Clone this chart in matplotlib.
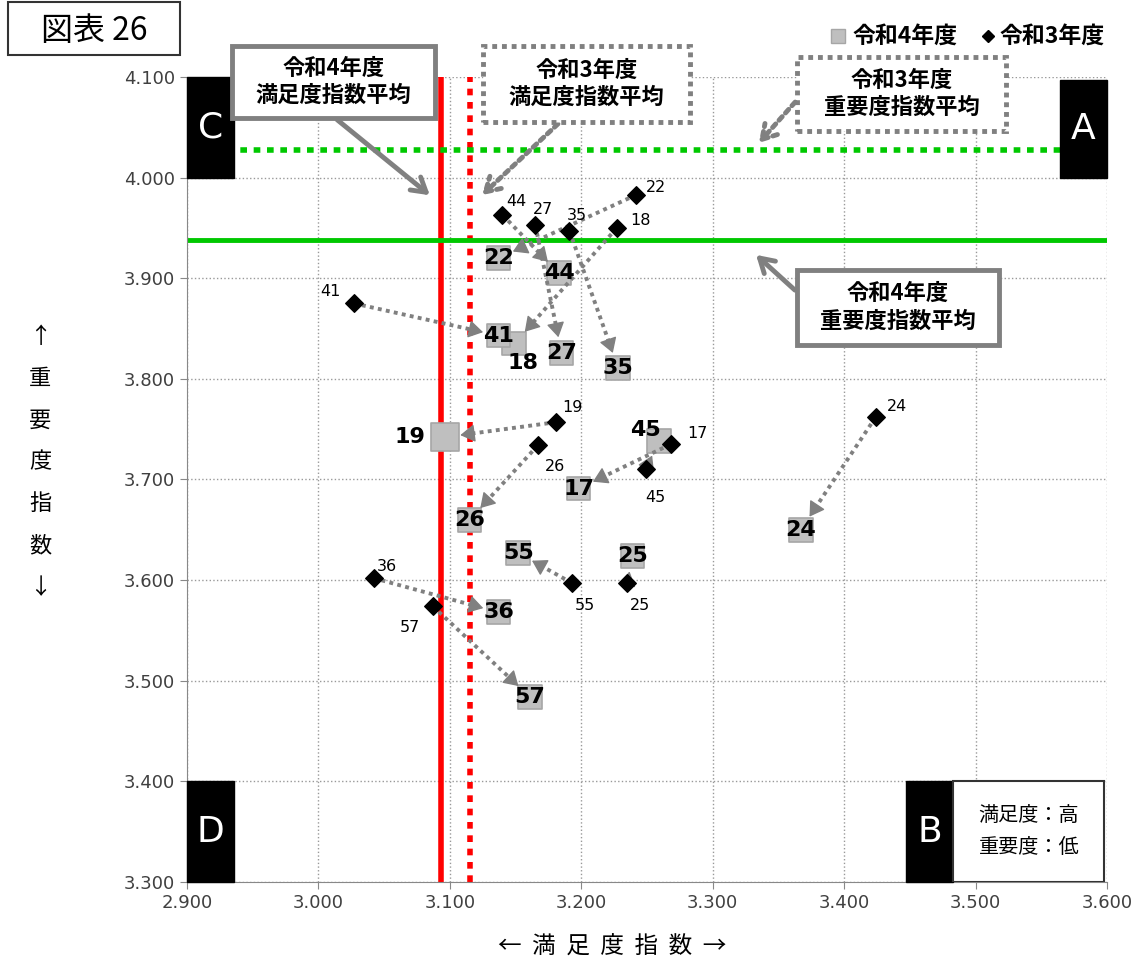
import matplotlib
matplotlib.use('Agg')
import numpy as np
import matplotlib.pyplot as plt
from matplotlib.patches import Rectangle, FancyArrowPatch

plt.rcParams['font.family'] = ['Noto Sans CJK JP', 'DejaVu Sans']

# data
ids = ['44', '27', '35', '22', '18', '41', '19', '26', '17', '45', '24', '55', '25', '36', '57']
sat_r3 = [3.140, 3.165, 3.191, 3.242, 3.227, 3.027, 3.181, 3.167, 3.268, 3.249, 3.424, 3.193, 3.235, 3.042, 3.087]
imp_r3 = [3.963, 3.953, 3.947, 3.983, 3.950, 3.875, 3.757, 3.734, 3.735, 3.710, 3.762, 3.597, 3.597, 3.602, 3.574]
sat_r4 = [3.183, 3.185, 3.228, 3.137, 3.149, 3.137, 3.096, 3.115, 3.198, 3.259, 3.367, 3.152, 3.239, 3.137, 3.161]
imp_r4 = [3.905, 3.826, 3.811, 3.920, 3.835, 3.843, 3.742, 3.660, 3.691, 3.738, 3.650, 3.627, 3.624, 3.568, 3.484]

avg_sat_r4 = 3.093
avg_sat_r3 = 3.115
avg_imp_r4 = 3.938
avg_imp_r3 = 4.027

# label offsets (points)
off_r3 = {'44': (3, 4), '27': (-2, 6), '35': (-2, 6), '22': (7, 0), '18': (10, 0),
          '41': (-24, 3), '19': (4, 5), '26': (5, -10), '17': (12, 2), '45': (0, -15),
          '24': (8, 2), '55': (2, -11), '25': (2, -11), '36': (2, 3), '57': (-24, -10)}
off_r4 = {'19': (-25, 0), '18': (6, -14), '45': (-10, 8)}

fig = plt.figure(figsize=(11.37, 9.64), dpi=100)
ax = fig.add_axes([0.1645, 0.0851, 0.8091, 0.835])
ax.set_xlim(2.9, 3.6)
ax.set_ylim(3.3, 4.1)
ax.set_xticks([2.9 + 0.1 * i for i in range(8)])
ax.set_yticks([3.3 + 0.1 * i for i in range(9)])
ax.xaxis.set_major_formatter(matplotlib.ticker.FormatStrFormatter('%.3f'))
ax.yaxis.set_major_formatter(matplotlib.ticker.FormatStrFormatter('%.3f'))
ax.tick_params(labelsize=13, colors='#404040', length=5, color='#888888')
for lab in ax.get_xticklabels() + ax.get_yticklabels():
    lab.set_family('DejaVu Sans')
ax.grid(True, linestyle=':', color='#999999', linewidth=1)
for s in ['top', 'right']:
    ax.spines[s].set_visible(False)
ax.spines['left'].set_color('#888888')
ax.spines['bottom'].set_color('#888888')
ax.set_axisbelow(True)

# average lines
ax.axvline(avg_sat_r4, color='#ff0000', lw=4, zorder=2)
ax.axvline(avg_sat_r3, color='#ff0000', lw=4, ls=(0, (1.2, 1.2)), zorder=2)
ax.axhline(avg_imp_r4, color='#00c800', lw=3.5, zorder=2)
ax.axhline(avg_imp_r3, color='#00c800', lw=4, ls=(0, (1.2, 1.2)), zorder=2)

# arrows R3 -> R4 : dotted shaft, solid head
fig.canvas.draw()
inv = ax.transData.inverted()
for i in range(len(ids)):
    p0 = ax.transData.transform((sat_r3[i], imp_r3[i]))
    p1 = ax.transData.transform((sat_r4[i], imp_r4[i]))
    d = p1 - p0
    u = d / np.hypot(*d)
    tip = p1 - u * 13
    base = tip - u * 16
    ax.plot(*zip(inv.transform(p0), inv.transform(base)), color='#808080', lw=2.8,
            ls=(0, (1, 1.1)), zorder=4)
    ax.add_patch(FancyArrowPatch(inv.transform(base), inv.transform(tip),
                                 arrowstyle='-|>,head_length=9,head_width=5.5',
                                 color='#808080', lw=1, mutation_scale=1, zorder=4))

ax.scatter(sat_r4, imp_r4, marker='s', s=[290 if n != '19' else 400 for n in ids],
           color='#bfbfbf', edgecolor='#a6a6a6', linewidth=1.2, zorder=3)
ax.scatter(sat_r3, imp_r3, marker='D', s=80, color='black', zorder=5)

for i, n in enumerate(ids):
    dx, dy = off_r4.get(n, (0, 0))
    ax.annotate(n, (sat_r4[i], imp_r4[i]), xytext=(dx, dy), textcoords='offset points',
                ha='center', va='center', fontsize=16, fontweight='bold', family='DejaVu Sans', zorder=6)
    dx, dy = off_r3[n]
    ax.annotate(n, (sat_r3[i], imp_r3[i]), xytext=(dx, dy), textcoords='offset points',
                ha='left', va='bottom' if dy >= 0 else 'top', fontsize=11.5, family='DejaVu Sans', zorder=6)

# quadrant boxes
def quad(x0, y0, w, h, letter):
    ax.add_patch(Rectangle((x0, y0), w, h, color='black', zorder=7, clip_on=False))
    ax.text(x0 + w / 2, y0 + h / 2, letter, color='white', fontsize=26, ha='center', va='center',
            family='DejaVu Sans', zorder=8)

quad(2.9, 4.0, 0.036, 0.1, 'C')
quad(3.564, 4.0, 0.036, 0.097, 'A')
quad(2.9, 3.3, 0.036, 0.1, 'D')
quad(3.447, 3.3, 0.036, 0.1, 'B')
ax.add_patch(Rectangle((3.483, 3.3), 0.115, 0.1, facecolor='white', edgecolor='#333333',
                       lw=1.5, zorder=7))
ax.text(3.5405, 3.35, '満足度：高\n重要度：低', ha='center', va='center', fontsize=14.5,
        linespacing=1.7, zorder=8)

def fp(px, py):
    return (px / 1137, 1 - py / 964)

# callouts (pixel boxes)
def callout(x0, y0, x1, y1, text, xy_from, xy_to, dotted):
    ls = (0, (1, 1)) if dotted else '-'
    fig.add_artist(FancyArrowPatch(fp(*xy_from), fp(*xy_to), transform=fig.transFigure,
                                   arrowstyle='->,head_length=10,head_width=6',
                                   color='#808080', lw=3.5, ls=ls, zorder=9))
    fig.add_artist(Rectangle(fp(x0, y1), (x1 - x0) / 1137, (y1 - y0) / 964,
                             transform=fig.transFigure, facecolor='white', edgecolor='#808080',
                             lw=3.5, ls=ls, zorder=10))
    fig.text((x0 + x1) / 2 / 1137, 1 - (y0 + y1) / 2 / 964, text, ha='center', va='center',
             fontsize=16, fontweight='bold', linespacing=1.25, zorder=11)

callout(232, 46, 435, 118, '令和4年度\n満足度指数平均', (335, 118), (432, 197), False)
callout(483, 46, 690, 122, '令和3年度\n満足度指数平均', (560, 122), (480, 197), True)
callout(797, 57, 1006, 131, '令和3年度\n重要度指数平均', (797, 100), (757, 145), True)
callout(797, 270, 999, 345, '令和4年度\n重要度指数平均', (797, 292), (754, 253), False)

# title box
fig.add_artist(Rectangle(fp(8, 55), 172 / 1137, 53 / 964, transform=fig.transFigure,
                         facecolor='white', edgecolor='#333333', lw=1.5))
fig.text(94 / 1137, 1 - 31 / 964, '図表 26', ha='center', va='center', fontsize=23)

# legend
fig.text(853 / 1137, 1 - 36 / 964, '令和4年度', ha='left', va='center', fontsize=16.5, fontweight='bold')
fig.text(1000 / 1137, 1 - 36 / 964, '令和3年度', ha='left', va='center', fontsize=16.5, fontweight='bold')
fig.add_artist(Rectangle(fp(831, 43), 14 / 1137, 14 / 964, transform=fig.transFigure,
                         facecolor='#bfbfbf', edgecolor='#a6a6a6'))
fig.add_artist(matplotlib.lines.Line2D([988 / 1137], [1 - 36 / 964], marker='D', color='black',
                                       markersize=6, transform=fig.transFigure))

# axis labels
fig.text(612 / 1137, 1 - 947 / 964, '←  満  足  度  指  数  →', ha='center', va='center', fontsize=17)
fig.text(40 / 1137, 1 - 462 / 964, '↑\n重\n要\n度\n指\n数\n↓', ha='center', va='center',
         fontsize=16, linespacing=2.05)

fig.savefig('out.png', dpi=100)
